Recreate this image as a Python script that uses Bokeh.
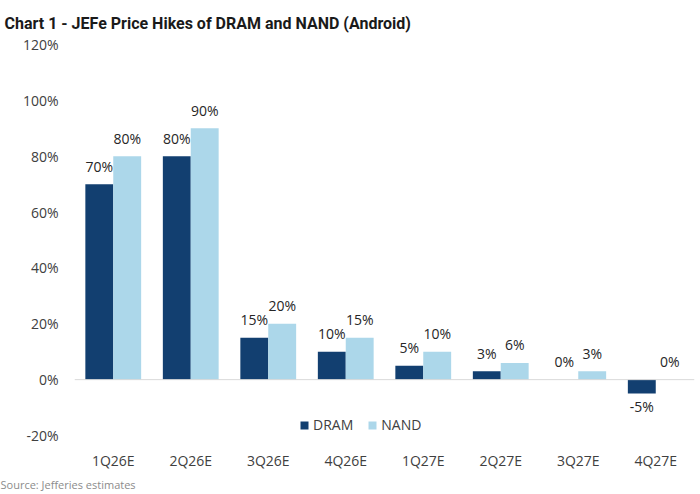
from bokeh.plotting import figure
from bokeh.models import (ColumnDataSource, FactorRange, FixedTicker, PrintfTickFormatter,
                          Span, Legend, LegendItem, Title)
from bokeh.transform import dodge
from bokeh.core.properties import value
from bokeh.embed import file_html
from bokeh.resources import INLINE

quarters = ["1Q26E", "2Q26E", "3Q26E", "4Q26E", "1Q27E", "2Q27E", "3Q27E", "4Q27E"]
dram = [70, 80, 15, 10, 5, 3, 0, -5]
nand = [80, 90, 20, 15, 10, 6, 3, 0]
y_ticks = [-20, 0, 20, 40, 60, 80, 100, 120]

DRAM_COLOR = "#123f70"
NAND_COLOR = "#acd7ea"
FONT = "Open Sans"


def offsets(vals):
    # labels sit above positive bars, below negative ones
    return [-18 if v >= 0 else 13 for v in vals]


src = ColumnDataSource(data=dict(
    q=quarters,
    dram=dram,
    nand=nand,
    dram_lbl=[f"{v}%" for v in dram],
    nand_lbl=[f"{v}%" for v in nand],
    dram_off=offsets(dram),
    nand_off=offsets(nand),
))

p = figure(x_range=FactorRange(*quarters, range_padding=0), y_range=(-20, 120),
           width=700, height=494, output_backend="svg", toolbar_location=None,
           min_border_left=74, min_border_right=6, min_border_top=0, min_border_bottom=0)

p.title.text = "Chart 1 - JEFe Price Hikes of DRAM and NAND (Android)"
p.title.text_font = "Roboto"
p.title.text_font_size = "16px"
p.title.text_font_style = "bold"
p.title.text_color = "#1a1a1a"
p.title.text_line_height = 1.0
p.title.offset = -70
p.title.standoff = 23

r1 = p.vbar(x=dodge("q", -0.18, range=p.x_range), top="dram", width=0.36, source=src,
            color=DRAM_COLOR, line_color=None)
r2 = p.vbar(x=dodge("q", 0.18, range=p.x_range), top="nand", width=0.36, source=src,
            color=NAND_COLOR, line_color=None)

for col, dx in (("dram", -0.18), ("nand", 0.18)):
    p.text(x=dodge("q", dx, range=p.x_range), y=col, text=col + "_lbl", source=src,
           y_offset=col + "_off", text_align="center", text_baseline="middle",
           text_font=value(FONT), text_font_size="14px", text_color="#262626")

p.add_layout(Span(location=0, dimension="width", line_color="#d9d9d9", line_width=1))

p.xgrid.visible = False
p.ygrid.visible = False
p.outline_line_color = None

p.yaxis.ticker = FixedTicker(ticks=y_ticks)
p.yaxis.formatter = PrintfTickFormatter(format="%d%%")
p.yaxis.axis_line_color = None
p.yaxis.major_tick_line_color = None
p.yaxis.minor_tick_line_color = None
p.yaxis.major_tick_out = 0
p.yaxis.major_label_standoff = 16
p.yaxis.major_label_text_font = FONT
p.yaxis.major_label_text_font_size = "14px"
p.yaxis.major_label_text_color = "#404040"

p.xaxis.axis_line_color = None
p.xaxis.major_tick_line_color = None
p.xaxis.major_tick_out = 0
p.xaxis.major_tick_in = 0
p.xaxis.major_label_standoff = 15
p.xaxis.major_label_text_font = FONT
p.xaxis.major_label_text_font_size = "14px"
p.xaxis.major_label_text_color = "#404040"

legend = Legend(items=[LegendItem(label="DRAM", renderers=[r1]),
                       LegendItem(label="NAND", renderers=[r2])],
                orientation="horizontal", location=(225, 1),
                glyph_width=10, glyph_height=10, label_standoff=4, spacing=14,
                padding=0, margin=0, border_line_color=None, background_fill_alpha=0,
                label_text_font=FONT, label_text_font_size="14px", label_text_color="#404040")
p.add_layout(legend)

src_note = Title(text="Source: Jefferies estimates", align="left", offset=-74,
                 text_font=FONT, text_font_size="11px", text_font_style="normal",
                 text_color="#8c8c8c", standoff=5)
p.add_layout(src_note, "below")

open("out.html", "w").write(file_html(p, INLINE))
